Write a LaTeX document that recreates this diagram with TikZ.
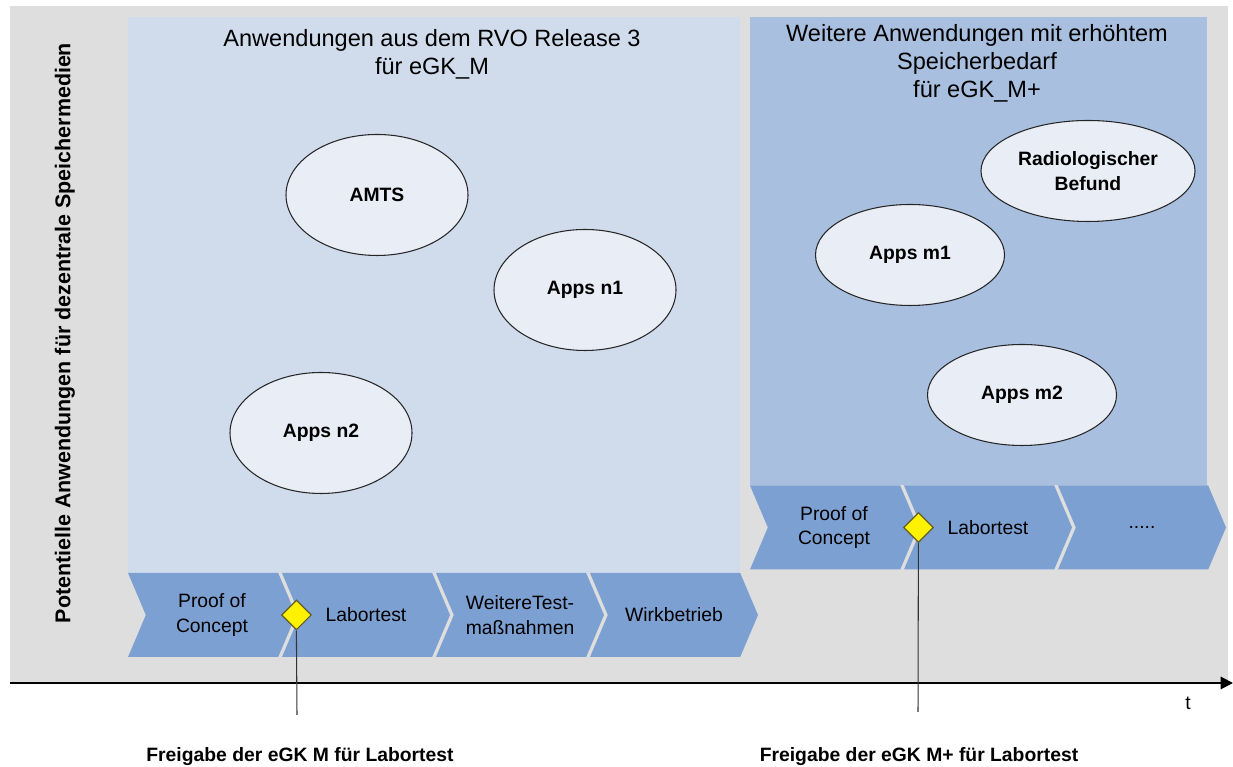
\documentclass[tikz,border=0pt]{standalone}
\usepackage{fontspec}
\setmainfont{Liberation Sans}
\usetikzlibrary{positioning, arrows.meta, shapes.geometric, shapes.symbols}
\definecolor{Fondo}{HTML}{DEDEDE}
\definecolor{PanelM}{HTML}{D0DCEC}
\definecolor{PanelMp}{HTML}{A9BFE0}
\definecolor{Fase}{HTML}{7DA0D2}
\definecolor{Elipse}{HTML}{E9EEF6}
\definecolor{Hito}{HTML}{FFF200}

\begin{document}
\begin{tikzpicture}[
  app/.style={ellipse, draw=black!85, line width=0.6pt, fill=Elipse,
              minimum width=3.64cm, minimum height=2.42cm,
              align=center, font=\fontsize{11}{14}\selectfont\bfseries},
  appw/.style={app, minimum width=3.78cm, minimum height=2.02cm},
  fase/.style={signal, signal from=west, signal to=east,
               signal pointer angle=134, fill=Fase,
               minimum width=3.36cm, minimum height=1.68cm, inner sep=0pt,
               align=center, font=\fontsize{11}{14}\selectfont},
  hito/.style={diamond, draw=olive!60!black, fill=Hito, line width=0.7pt,
               minimum width=0.6cm, minimum height=0.6cm, inner sep=0pt},
  titulo/.style={align=center, font=\fontsize{13.4}{16}\selectfont},
  marca/.style={line width=0.6pt, color=black!80},
  eje/.style={-{Triangle[length=7pt, width=7pt]}, line width=1.1pt},
  pie/.style={font=\fontsize{11}{13}\selectfont\bfseries}
]
\useasboundingbox (0,0) rectangle (24.66,15.34);

%% ─── Flächen ────────────────────────────────────────────────
\fill[Fondo]   (0.2, 1.68) rectangle (24.56, 15.22);
\fill[PanelM]  (2.56, 3.88) rectangle (14.8, 15.0);
\fill[PanelMp] (15.0, 5.64) rectangle (24.14, 15.0);

%% ─── Achse ─────────────────────────────────────────────────
\node[rotate=90, font=\fontsize{12.2}{14}\selectfont\bfseries] (ylab) at (1.3, 8.68)
    {Potentielle Anwendungen für dezentrale Speichermedien};
\coordinate (t0) at (0.2, 1.68);
\coordinate (t1) at (24.66, 1.68);
\draw[eje] (t0) -- (t1);
\node[font=\fontsize{11}{13}\selectfont] (tlab) at (23.76, 1.28) {t};

%% ─── eGK_M (Release 3) ──────────────────────────────────────
\node[titulo] (tm) at (8.64, 14.26)
    {Anwendungen aus dem RVO Release 3\\für eGK\_M};
\node[app]  (amts) at (7.54, 11.44) {AMTS};
\node[app]  (n1)   at (11.7, 9.54)  {Apps n1};
\node[app]  (n2)   at (6.42, 6.68)  {Apps n2};

\node[fase] (fm1) at (4.24,  3.04) {Proof of\\Concept};
\node[fase] (fm2) at (7.32,  3.04) {Labortest};
\node[fase] (fm3) at (10.4,  3.04) {WeitereTest-\\maßnahmen};
\node[fase] (fm4) at (13.48, 3.04) {Wirkbetrieb};

\node[hito] (hm) at (fm1.east) {};
\coordinate (lm) at (5.94, 1.04);
\draw[marca] (hm.south) -- (lm);
\node[pie] (pm) at (6.0, 0.2) {Freigabe der eGK M für Labortest};

%% ─── eGK_M+ (erhöhter Speicherbedarf) ───────────────────────
\node[titulo] (tmp) at (19.54, 14.08)
    {Weitere Anwendungen mit erhöhtem\\Speicherbedarf\\für eGK\_M+};
\node[appw] (radio) at (21.76, 11.92) {Radiologischer\\Befund};
\node[appw] (m1)    at (18.2, 10.24)  {Apps m1};
\node[appw] (m2)    at (20.44, 7.44)  {Apps m2};

\node[fase] (fp1) at (16.68, 4.79) {Proof of\\Concept};
\node[fase] (fp2) at (19.76, 4.79) {Labortest};
\node[fase] (fp3) at (22.84, 4.79) {.....};

\node[hito] (hp) at (fp1.east) {};
\coordinate (lp) at (18.36, 1.1);
\draw[marca] (hp.south) -- (lp);
\node[pie] (pp) at (18.38, 0.2) {Freigabe der eGK M+ für Labortest};

\end{tikzpicture}
\end{document}
